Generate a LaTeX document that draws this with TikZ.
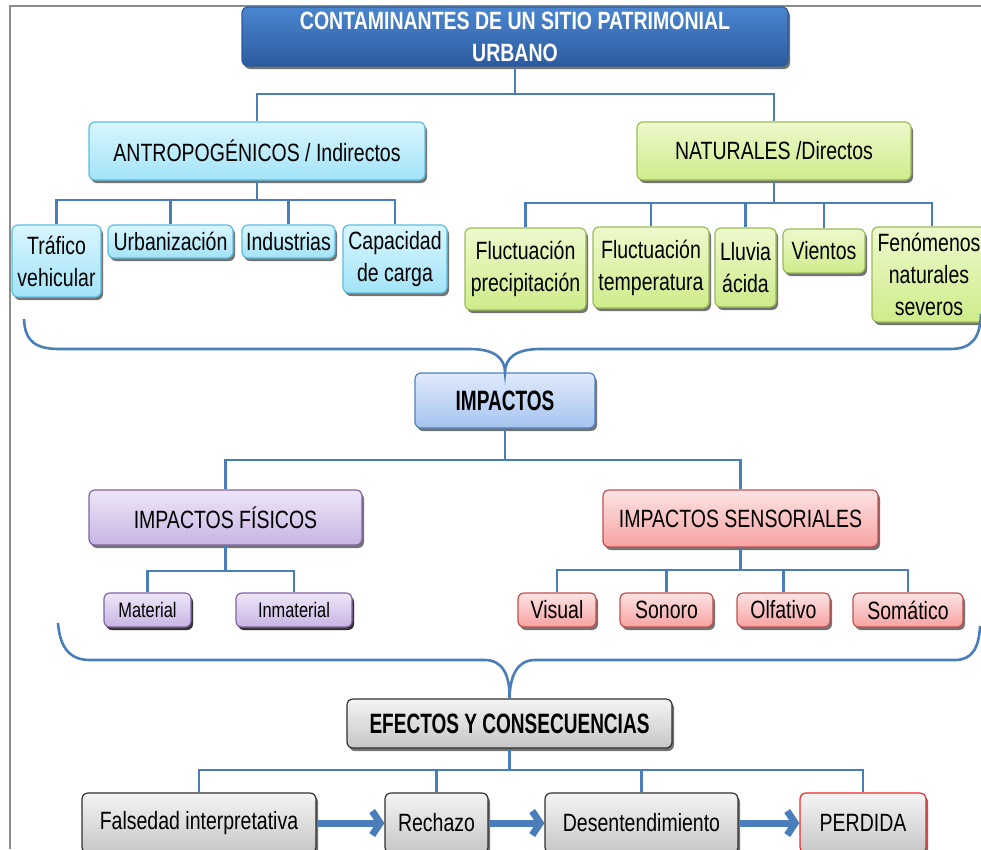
\documentclass[tikz,border=0pt]{standalone}
\usepackage{fontspec}
\setmainfont{Liberation Sans}[FakeStretch=0.78]
\newfontfamily\condfont{Liberation Sans}[FakeStretch=0.68]
\usetikzlibrary{shadows,arrows.meta}
\definecolor{conn}{HTML}{4A7EBB}
\definecolor{titleT}{HTML}{4A86D0}
\definecolor{titleB}{HTML}{2C5A9E}
\definecolor{cyanT}{HTML}{D8F6FE}
\definecolor{cyanB}{HTML}{A3E3F8}
\definecolor{cyanD}{HTML}{5BBDE0}
\definecolor{greenT}{HTML}{EEF9CC}
\definecolor{greenB}{HTML}{CDEC8A}
\definecolor{greenD}{HTML}{9BBB59}
\definecolor{blueT}{HTML}{E0EAFB}
\definecolor{blueB}{HTML}{A6C4F0}
\definecolor{blueD}{HTML}{4F81BD}
\definecolor{purT}{HTML}{EEE6F8}
\definecolor{purB}{HTML}{C8B4E4}
\definecolor{purD}{HTML}{8064A2}
\definecolor{redT}{HTML}{FDE4E4}
\definecolor{redB}{HTML}{F7A1A1}
\definecolor{redD}{HTML}{C0504D}
\definecolor{grayT}{HTML}{F4F4F4}
\definecolor{grayB}{HTML}{C6C6C6}
\definecolor{grayD}{HTML}{303030}
\definecolor{perdD}{HTML}{F02828}
\definecolor{framegray}{HTML}{8C8C8C}
\tikzset{
  box/.style={draw, rounded corners=6pt, line width=1.2pt, align=center, inner sep=0pt,
    font=\fontsize{25}{32}\selectfont,
    drop shadow={shadow xshift=2pt, shadow yshift=-3pt, opacity=0.55, fill=black}},
  smallbox/.style={box, font=\fontsize{21}{28}\selectfont},
  titlebox/.style={box, draw=titleB, top color=titleT, bottom color=titleB, text=white,
    font=\fontsize{25}{32}\selectfont\bfseries},
  cyanbox/.style={box, draw=cyanD, top color=cyanT, bottom color=cyanB},
  greenbox/.style={box, draw=greenD, top color=greenT, bottom color=greenB},
  bluebox/.style={box, draw=blueD, top color=blueT, bottom color=blueB, font=\condfont\fontsize{28}{32}\selectfont\bfseries},
  purbox/.style={box, draw=purD, top color=purT, bottom color=purB},
  redbox/.style={box, draw=redD, top color=redT, bottom color=redB},
  graybox/.style={box, draw=grayD, top color=grayT, bottom color=grayB},
  connline/.style={draw=conn, line width=2.6pt},
  bracepath/.style={draw=conn, line width=2.6pt},
  bigarrow/.style={draw=conn, line width=7pt, -{Straight Barb[length=8pt,width=24pt]}},
}
\begin{document}
\begin{tikzpicture}[x=1pt,y=-1pt]
\useasboundingbox (0,0) rectangle (981,849);
\draw[framegray, line width=1.5pt] (10,849) -- (10,6) -- (981,6);

% top
\node[titlebox, minimum width=546pt, minimum height=59pt] (title) at (515,36.5) {CONTAMINANTES DE UN SITIO PATRIMONIAL\\URBANO};
\node[cyanbox, minimum width=336pt, minimum height=58pt] (antro) at (257,151) {ANTROPOGÉNICOS / Indirectos};
\node[greenbox, minimum width=274pt, minimum height=58pt] (natur) at (774,151) {NATURALES /Directos};

% antropogenicos children
\node[cyanbox, minimum width=89pt, minimum height=72pt] (trafico) at (56.5,261) {Tráfico\\vehicular};
\node[cyanbox, minimum width=125pt, minimum height=33pt] (urban) at (170.5,241.5) {Urbanización};
\node[cyanbox, minimum width=93pt, minimum height=33pt] (indus) at (288.5,241.5) {Industrias};
\node[cyanbox, minimum width=104pt, minimum height=68pt] (capac) at (395,259) {Capacidad\\de carga};

% naturales children
\node[greenbox, minimum width=121pt, minimum height=82pt] (fprec) at (525.5,269) {Fluctuación\\precipitación};
\node[greenbox, minimum width=116pt, minimum height=81pt] (ftemp) at (651,267.5) {Fluctuación\\temperatura};
\node[greenbox, minimum width=61pt, minimum height=79pt] (lluvia) at (745.5,267.5) {Lluvia\\ácida};
\node[greenbox, minimum width=82pt, minimum height=44pt] (vientos) at (824,251) {Vientos};
\node[greenbox, minimum width=114pt, minimum height=95pt] (fenom) at (929,274.5) {Fenómenos\\naturales\\severos};

% impactos
\node[bluebox, minimum width=180pt, minimum height=55pt] (impactos) at (505,400.5) {IMPACTOS};
\node[purbox, minimum width=273pt, minimum height=55pt] (ifis) at (225.5,517.5) {IMPACTOS FÍSICOS};
\node[redbox, minimum width=275pt, minimum height=57pt] (isens) at (740.5,518.5) {IMPACTOS SENSORIALES};

\node[purbox, smallbox, minimum width=87pt, minimum height=34pt] (material) at (147.5,610) {Material};
\node[purbox, smallbox, minimum width=116pt, minimum height=34pt] (inmat) at (294,610) {Inmaterial};
\node[redbox, minimum width=78pt, minimum height=34pt] (visual) at (557,610) {Visual};
\node[redbox, minimum width=93pt, minimum height=34pt] (sonoro) at (666.5,610) {Sonoro};
\node[redbox, minimum width=93pt, minimum height=34pt] (olfat) at (783.5,610) {Olfativo};
\node[redbox, minimum width=110pt, minimum height=34pt] (somat) at (908,610) {Somático};

% efectos
\node[graybox, font=\condfont\fontsize{28}{32}\selectfont\bfseries, minimum width=325pt, minimum height=49pt] (efectos) at (509.5,723.5) {EFECTOS Y CONSECUENCIAS};
\node[graybox, minimum width=234pt, minimum height=60pt] (falsedad) at (199,823) {Falsedad interpretativa};
\node[graybox, minimum width=103pt, minimum height=60pt] (rechazo) at (436.5,823) {Rechazo};
\node[graybox, minimum width=193pt, minimum height=60pt] (desent) at (641.5,823) {Desentendimiento};
\node[graybox, draw=perdD, minimum width=126pt, minimum height=60pt] (perdida) at (863,823) {PERDIDA};

% connectors
\coordinate (b1) at (515,94);
\draw[connline] (title.south) -- (b1);
\draw[connline] (antro.north) |- (b1) -| (natur.north);

\coordinate (b2) at (257,200);
\draw[connline] (antro.south) -- (b2);
\foreach \n in {trafico,urban,indus,capac} \draw[connline] (\n.north) |- (b2);

\coordinate (b3) at (774,203);
\draw[connline] (natur.south) -- (b3);
\foreach \n in {fprec,ftemp,lluvia,vientos} \draw[connline] (\n.north) |- (b3);
\draw[connline] (fenom.north -| 932,0) |- (b3);

\coordinate (b4) at (505,460);
\draw[connline] (impactos.south) -- (b4);
\draw[connline] (ifis.north) |- (b4) -| (isens.north);

\coordinate (b5) at (225.5,571);
\draw[connline] (ifis.south) -- (b5);
\foreach \n in {material,inmat} \draw[connline] (\n.north) |- (b5);

\coordinate (b6) at (740.5,570);
\draw[connline] (isens.south) -- (b6);
\foreach \n in {visual,sonoro,olfat,somat} \draw[connline] (\n.north) |- (b6);

\coordinate (b7) at (509.5,770);
\draw[connline] (efectos.south) -- (b7);
\foreach \n in {falsedad,rechazo,desent,perdida} \draw[connline] (\n.north) |- (b7);

% braces
\draw[bracepath] (24,319) .. controls (25,342) and (36,349) .. (60,349) -- (470,349)
  .. controls (494,349) and (505,358) .. (impactos.north)
  .. controls (505,358) and (516,349) .. (540,349) -- (950,349)
  .. controls (972,349) and (980,338) .. (981,314);
\draw[bracepath] (58,623) .. controls (60,648) and (70,660) .. (90,660) -- (485,660)
  .. controls (503,660) and (510,676) .. (efectos.north)
  .. controls (510,676) and (517,660) .. (535,660) -- (955,660)
  .. controls (972,660) and (979,648) .. (980,626);

% arrows
\draw[bigarrow] (falsedad.east) -- (rechazo.west);
\draw[bigarrow] (rechazo.east) -- (desent.west);
\draw[bigarrow] (desent.east) -- (perdida.west);
\end{tikzpicture}
\end{document}
